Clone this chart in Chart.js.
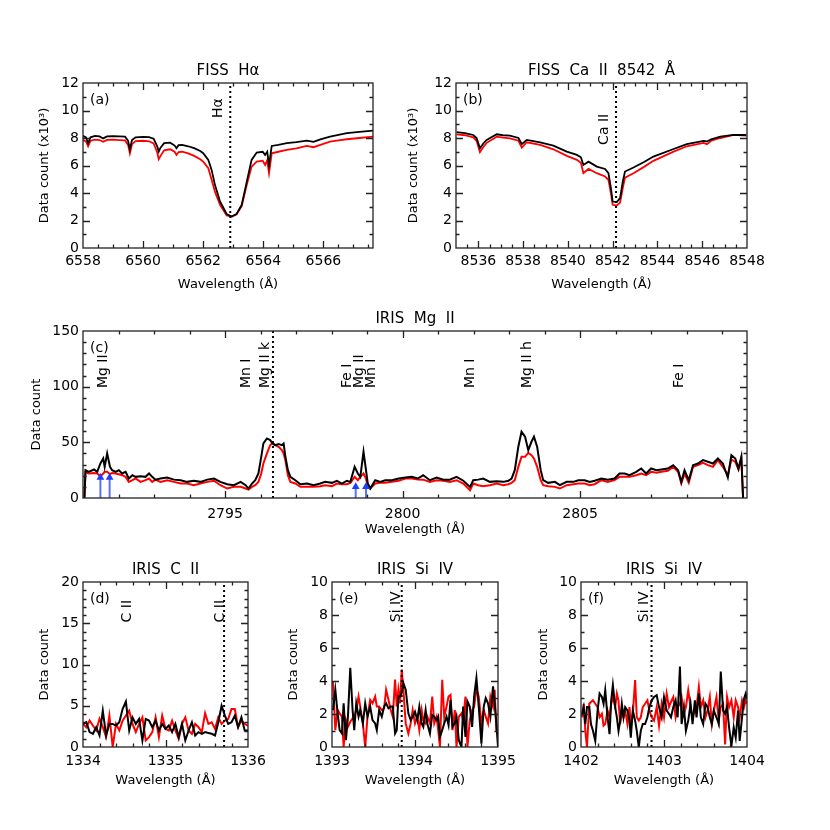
<!DOCTYPE html>
<html><head><meta charset="utf-8">
<script src="https://cdn.jsdelivr.net/npm/chart.js@4.4.1/dist/chart.umd.min.js"></script>
<style>
html,body{margin:0;padding:0;background:#fff;}
#wrap{position:relative;width:830px;height:830px;background:#fff;}
canvas{position:absolute;left:0;top:0;}
</style></head><body><div id="wrap">
<canvas id="pa" width="830" height="830"></canvas>
<canvas id="pb" width="830" height="830"></canvas>
<canvas id="pc" width="830" height="830"></canvas>
<canvas id="pd" width="830" height="830"></canvas>
<canvas id="pe" width="830" height="830"></canvas>
<canvas id="pf" width="830" height="830"></canvas>
</div>
<script>
// ---------------- DATA ----------------
// (a) FISS H-alpha, data count in 10^3
const aWave = [6558.00,6558.10,6558.17,6558.25,6558.40,6558.55,6558.67,6558.80,6559.00,6559.20,
  6559.40,6559.50,6559.56,6559.63,6559.75,6560.00,6560.20,6560.35,6560.47,6560.52,
  6560.58,6560.70,6560.90,6561.05,6561.11,6561.18,6561.30,6561.50,6561.70,6561.90,
  6562.00,6562.17,6562.28,6562.39,6562.56,6562.78,6562.95,6563.11,6563.28,6563.45,
  6563.61,6563.78,6563.98,6564.06,6564.13,6564.19,6564.28,6564.50,6564.78,6565.10,
  6565.45,6565.67,6565.90,6566.22,6566.50,6566.78,6567.20,6567.67];
const aBlack = [8.15,8.05,7.62,8.05,8.15,8.12,7.97,8.12,8.14,8.12,
  8.10,7.80,7.18,7.85,8.05,8.08,8.06,7.95,7.40,7.01,
  7.30,7.62,7.66,7.45,7.26,7.48,7.50,7.40,7.26,7.05,
  6.89,6.41,5.68,4.59,3.38,2.47,2.29,2.47,3.14,4.83,
  6.41,6.94,7.00,6.77,7.00,6.04,7.42,7.50,7.62,7.70,
  7.81,7.72,7.90,8.10,8.22,8.35,8.45,8.54];
const aRed = [7.85,7.75,7.40,7.80,7.88,7.85,7.72,7.86,7.88,7.85,
  7.82,7.50,6.89,7.55,7.78,7.80,7.76,7.60,6.95,6.46,
  6.70,7.10,7.18,7.00,6.77,6.98,7.00,6.88,6.70,6.45,
  6.28,5.80,4.96,4.10,3.14,2.37,2.29,2.45,3.05,4.60,
  5.92,6.28,6.35,6.04,6.38,5.44,6.89,7.00,7.13,7.25,
  7.42,7.33,7.50,7.74,7.82,7.91,8.00,8.10];
const aXTicks = [6558,6560,6562,6564,6566];
const aYTicks = [0,2,4,6,8,10,12];

// (b) FISS Ca II 8542, data count in 10^3
const bWave = [8535.03,8535.40,8535.77,8535.92,8536.07,8536.22,8536.37,8536.82,8537.10,8537.41,
  8537.79,8537.94,8538.16,8538.76,8539.35,8539.95,8540.40,8540.58,8540.69,8540.92,
  8541.29,8541.66,8541.81,8541.92,8542.00,8542.18,8542.33,8542.45,8542.55,8542.93,
  8543.40,8543.82,8544.72,8545.31,8546.06,8546.21,8546.40,8546.81,8547.40,8547.97];
const bBlack = [8.42,8.35,8.22,8.00,7.26,7.60,7.86,8.27,8.20,8.17,
  8.00,7.55,7.86,7.69,7.45,7.01,6.77,6.60,6.04,6.28,
  5.92,5.75,5.44,4.35,3.38,3.34,3.63,4.83,5.56,5.85,
  6.25,6.65,7.20,7.55,7.79,7.75,7.90,8.10,8.22,8.22];
const bRed = [8.27,8.20,8.05,7.80,6.97,7.35,7.65,8.10,8.02,7.98,
  7.80,7.30,7.69,7.50,7.18,6.70,6.41,6.20,5.44,5.75,
  5.44,5.20,4.96,4.00,3.14,3.09,3.30,4.35,5.12,5.44,
  5.90,6.34,7.01,7.40,7.65,7.55,7.80,8.00,8.22,8.18];
const bXTicks = [8536,8538,8540,8542,8544,8546,8548];
const bYTicks = [0,2,4,6,8,10,12];

// (c) IRIS Mg II
const cWave = [2791.04,2791.07,2791.16,2791.31,2791.40,2791.49,2791.57,2791.61,2791.68,2791.76,
  2791.82,2791.92,2792.01,2792.10,2792.20,2792.29,2792.39,2792.48,2792.62,2792.76,
  2792.86,2792.95,2793.04,2793.18,2793.37,2793.56,2793.75,2793.93,2794.12,2794.31,
  2794.50,2794.69,2794.87,2795.06,2795.25,2795.44,2795.58,2795.66,2795.76,2795.85,
  2795.94,2796.02,2796.08,2796.18,2796.27,2796.34,2796.41,2796.51,2796.60,2796.65,
  2796.70,2796.77,2796.84,2796.98,2797.12,2797.31,2797.49,2797.68,2797.82,2798.01,
  2798.15,2798.29,2798.43,2798.53,2798.65,2798.74,2798.81,2798.90,2798.97,2799.02,
  2799.09,2799.23,2799.37,2799.51,2799.70,2799.89,2800.08,2800.26,2800.43,2800.58,
  2800.77,2800.96,2801.15,2801.33,2801.52,2801.71,2801.90,2801.99,2802.13,2802.27,
  2802.46,2802.65,2802.84,2802.98,2803.07,2803.16,2803.26,2803.35,2803.45,2803.54,
  2803.63,2803.70,2803.79,2803.89,2803.96,2804.10,2804.29,2804.43,2804.62,2804.81,
  2804.95,2805.13,2805.27,2805.41,2805.60,2805.78,2805.97,2806.11,2806.25,2806.39,
  2806.58,2806.72,2806.86,2807.00,2807.15,2807.29,2807.47,2807.62,2807.76,2807.85,
  2807.94,2808.06,2808.18,2808.32,2808.46,2808.60,2808.74,2808.88,2809.02,2809.16,
  2809.26,2809.37,2809.46,2809.54,2809.59];
const cBlack = [0,25.0,23.5,25.6,23.5,31.0,35.5,28.0,40.0,28.0,
  25.0,23.5,25.0,22.0,23.5,17.5,20.5,19.0,19.6,19.0,
  22.0,19.0,16.5,17.5,18.4,16.5,16.0,14.5,15.5,14.5,
  16.5,17.5,14.5,12.4,11.5,14.5,11.5,8.5,13.0,16.0,
  22.0,37.0,49.0,53.5,52.0,49.0,47.5,48.4,47.5,49.0,
  37.0,25.0,19.0,16.0,12.4,13.0,11.5,13.0,14.5,13.6,
  15.5,13.0,15.5,14.5,28.0,22.0,19.0,41.5,25.0,13.0,
  8.5,16.0,14.5,16.0,16.0,17.5,18.4,19.0,17.5,20.4,
  16.0,18.4,16.5,16.5,19.0,15.5,10.0,16.0,16.5,17.5,
  14.5,15.1,14.5,15.5,17.5,25.0,46.0,59.5,55.0,43.0,
  50.5,55.0,46.0,25.0,16.0,13.6,14.5,11.5,14.5,14.5,
  16.0,16.0,14.5,15.5,17.5,16.5,17.5,22.0,22.0,20.5,
  23.5,26.5,22.0,26.5,25.0,25.6,26.5,29.5,25.0,14.5,
  25.0,16.0,29.5,31.0,34.0,32.5,31.0,35.5,31.0,18.4,
  38.5,35.5,26.5,37.0,0];
const cRed = [0,23.0,22.0,22.5,22.0,19.5,22.0,23.5,23.5,21.4,
  22.5,22.0,21.4,20.5,19.0,14.5,16.0,17.5,14.5,16.0,
  17.5,14.5,16.5,14.5,16.0,14.5,13.0,13.0,11.5,13.0,
  14.5,15.5,11.5,8.5,10.0,10.0,8.5,7.5,10.0,11.5,
  14.5,22.0,31.0,40.0,47.4,49.5,47.5,46.0,43.0,40.0,
  34.0,20.5,14.5,13.0,10.0,10.0,10.0,10.6,11.5,10.6,
  13.0,12.4,12.4,13.6,19.0,16.0,19.0,22.0,17.5,10.0,
  8.5,13.0,13.6,13.6,14.5,15.5,17.5,17.5,16.6,16.5,
  14.5,16.0,15.4,14.5,16.0,13.0,7.0,13.0,11.5,10.6,
  11.5,13.0,11.5,12.4,13.6,16.0,28.0,37.0,37.0,40.5,
  38.5,35.5,28.0,16.0,11.5,10.6,10.0,8.5,11.5,12.4,
  13.0,13.0,11.5,12.4,16.0,14.5,16.0,19.0,19.0,19.0,
  20.5,22.0,20.5,23.5,22.6,23.5,24.4,28.0,23.5,13.0,
  22.0,13.6,28.0,29.5,31.6,29.5,28.0,34.0,28.0,20.5,
  34.6,32.5,25.6,35.5,0];
const cXTicks = [2795,2800,2805];
const cYTicks = [0,50,100,150];
const cArrowWave = [2791.49,2791.75,2798.68,2798.97];
const cArrowTop = [18.4,18.4,10.0,10.0];

// (d) IRIS C II
const dWave = [1334.00,1334.04,1334.08,1334.12,1334.16,1334.20,1334.24,1334.28,1334.32,1334.36,
  1334.40,1334.44,1334.48,1334.52,1334.56,1334.60,1334.64,1334.68,1334.72,1334.76,
  1334.80,1334.84,1334.88,1334.92,1334.96,1335.00,1335.04,1335.08,1335.12,1335.16,
  1335.20,1335.24,1335.28,1335.32,1335.36,1335.40,1335.44,1335.48,1335.52,1335.56,
  1335.60,1335.64,1335.68,1335.72,1335.76,1335.80,1335.84,1335.88,1335.92,1335.96,
  1336.00];
const dBlack = [2.8,3.0,1.8,1.6,2.4,1.4,4.4,1.4,2.8,2.8,
  2.6,3.0,4.6,5.5,2.0,3.6,2.8,3.4,0.8,3.4,
  3.2,2.4,3.2,2.0,2.8,2.2,2.6,1.8,2.8,1.2,
  2.8,0.8,2.0,3.0,1.4,1.8,1.6,1.8,1.7,1.6,
  1.4,3.0,5.0,3.8,2.8,3.0,3.8,2.4,3.6,2.0,
  2.0];
const dRed = [2.8,2.4,3.2,2.6,2.0,3.4,2.4,1.2,3.8,0.0,
  2.8,2.0,3.2,3.8,4.4,2.8,1.8,2.8,3.6,0.8,
  1.2,1.8,3.6,1.2,3.8,2.2,2.0,3.2,2.0,1.0,
  2.8,3.6,2.0,1.6,2.8,2.4,1.8,4.1,2.8,3.0,
  2.2,3.6,2.8,3.2,3.4,4.6,4.6,2.4,3.2,2.8,
  2.6];
const dXTicks = [1334,1335,1336];
const dYTicks = [0,5,10,15,20];

// (e) IRIS Si IV 1394
const eWave = [1393.012,1393.040,1393.068,1393.092,1393.120,1393.140,1393.168,1393.192,1393.220,1393.248,
  1393.268,1393.292,1393.320,1393.340,1393.372,1393.400,1393.428,1393.460,1393.488,1393.520,
  1393.540,1393.568,1393.600,1393.628,1393.652,1393.680,1393.708,1393.732,1393.760,1393.780,
  1393.800,1393.820,1393.840,1393.860,1393.888,1393.920,1393.948,1393.972,1394.000,1394.028,
  1394.052,1394.080,1394.100,1394.128,1394.148,1394.180,1394.208,1394.232,1394.260,1394.280,
  1394.300,1394.328,1394.352,1394.380,1394.404,1394.428,1394.452,1394.480,1394.500,1394.528,
  1394.560,1394.580,1394.608,1394.632,1394.660,1394.688,1394.712,1394.740,1394.768,1394.800,
  1394.828,1394.852,1394.880,1394.908,1394.940,1394.960,1394.980,1395.000];
const eBlack = [2.24,3.47,2.04,1.02,0.82,2.65,0.41,1.84,4.80,2.24,
  1.02,2.65,1.84,2.24,1.43,2.65,1.84,2.45,1.63,1.43,
  1.02,2.24,1.84,2.45,2.65,2.35,2.45,2.45,0.82,1.02,
  3.06,3.06,3.27,3.88,3.47,2.04,1.63,1.84,2.14,1.63,
  2.45,1.43,1.22,2.24,1.43,0.82,1.94,1.84,1.63,1.84,
  0.61,1.02,1.43,1.84,1.33,2.86,1.22,1.43,1.84,0.41,
  0.00,2.45,0.61,2.76,2.45,1.22,3.06,4.18,2.45,0.20,
  2.45,2.96,2.65,1.84,3.67,2.65,1.43,0.00];
const eRed = [3.98,1.02,2.24,2.04,1.84,0.00,1.63,1.22,1.53,1.73,
  1.84,2.24,3.06,2.45,1.43,0.00,1.84,2.86,2.65,3.06,
  2.45,2.45,2.24,2.35,3.47,2.86,2.24,1.84,4.08,2.45,
  3.47,2.65,4.69,3.47,1.43,0.82,1.43,2.24,1.43,1.84,
  1.02,2.24,1.63,1.43,1.84,1.43,3.06,1.43,1.84,1.02,
  0.00,4.08,1.84,2.45,3.06,3.16,1.02,2.24,0.00,1.84,
  2.04,1.63,3.06,0.00,1.63,2.24,2.45,3.47,3.06,1.43,
  2.24,1.84,1.43,3.06,2.45,3.47,1.02,0.82];
const eXTicks = [1393,1394,1395];
const eYTicks = [0,2,4,6,8,10];

// (f) IRIS Si IV 1403
const fWave = [1402.012,1402.032,1402.052,1402.072,1402.100,1402.120,1402.144,1402.172,1402.200,1402.224,
  1402.252,1402.272,1402.292,1402.320,1402.344,1402.364,1402.384,1402.412,1402.432,1402.452,
  1402.472,1402.492,1402.512,1402.532,1402.560,1402.584,1402.600,1402.624,1402.652,1402.672,
  1402.696,1402.720,1402.744,1402.772,1402.800,1402.824,1402.852,1402.880,1402.912,1402.940,
  1402.972,1403.000,1403.032,1403.060,1403.084,1403.112,1403.140,1403.164,1403.192,1403.212,
  1403.240,1403.264,1403.292,1403.320,1403.344,1403.372,1403.392,1403.420,1403.444,1403.472,
  1403.500,1403.524,1403.552,1403.576,1403.600,1403.632,1403.660,1403.684,1403.712,1403.736,
  1403.760,1403.784,1403.812,1403.840,1403.864,1403.892,1403.912,1403.940,1403.964,1403.984,
  1404.000];
const fBlack = [2.01,2.42,1.39,2.42,2.42,1.39,0.98,0.37,2.21,3.24,
  3.03,2.62,3.44,1.80,0.78,2.83,3.75,2.42,1.80,0.98,
  1.60,2.62,1.80,2.42,2.21,1.60,0.57,2.21,1.60,0.98,
  0.00,0.98,1.39,1.39,1.80,2.42,2.83,3.03,3.14,2.42,
  1.80,3.03,2.21,2.01,1.80,2.42,2.83,1.80,4.88,1.39,
  2.42,0.98,1.60,2.62,1.39,2.83,1.80,3.24,1.80,1.39,
  2.62,2.42,1.80,1.39,2.21,1.80,1.39,4.57,2.21,2.01,
  2.42,1.19,0.06,1.19,0.57,2.21,0.37,1.80,2.93,3.24,
  2.93];
const fRed = [1.80,2.62,0.98,0.00,2.62,2.73,2.83,2.62,2.42,1.80,
  2.01,1.29,1.39,2.21,1.80,2.62,3.03,2.42,3.24,2.83,
  1.39,2.21,1.80,2.21,1.39,2.42,1.39,2.01,4.06,1.80,
  1.60,1.80,2.42,2.62,2.83,2.21,1.80,1.60,2.42,1.29,
  2.62,1.80,3.24,2.42,2.73,3.03,1.80,2.42,2.62,3.03,
  2.01,2.42,3.44,2.42,1.80,2.21,2.42,3.65,2.42,2.83,
  1.80,2.21,3.03,1.39,2.21,3.03,1.60,2.42,2.62,0.16,
  3.03,2.42,2.83,1.80,2.83,2.42,1.80,2.83,2.42,2.83,
  2.62];
const fXTicks = [1402,1403,1404];
const fYTicks = [0,2,4,6,8,10];

// line identifications: text, wavelength, data height of label start
const aLabelText = ['Hα'];   const aLabelWave = [6562.49]; const aLabelY = 9.46;
const bLabelText = ['Ca II']; const bLabelWave = [8541.62]; const bLabelY = 7.5;
const cLabelText = ['Mg II','Mn I','Mg II k','Fe I','Mg II','Mn I','Mn I','Mg II h','Fe I'];
const cLabelWave = [2791.58,2795.61,2796.14,2798.45,2798.79,2799.13,2801.92,2803.52,2807.80];
const cLabelY = 98.7;
const dLabelText = ['C II','C II']; const dLabelWave = [1334.54,1335.67]; const dLabelY = 15.1;
const eLabelText = ['Si IV']; const eLabelWave = [1393.78]; const eLabelY = 7.56;
const fLabelText = ['Si IV']; const fLabelWave = [1402.76]; const fLabelY = 7.56;
// rest wavelengths (dotted lines)
const aLine = 6562.9, bLine = 8542.15, cLine = 2796.35, dLine = 1335.71, eLine = 1393.84, fLine = 1402.85;

// ---------------- DRAWING ----------------
Chart.defaults.font.family = "'DejaVu Sans', sans-serif";
Chart.defaults.color = '#000';
const FONT = "'DejaVu Sans', sans-serif";

function pts(xs, ys) { return xs.map((x, i) => ({x: x, y: ys[i]})); }
function steps(min, max, st) {
  const out = [];
  for (let v = Math.ceil(min / st - 1e-9) * st; v <= max + 1e-9; v += st) out.push(v);
  return out;
}

const idlPlugin = {
  id: 'idl',
  afterDatasetsDraw(chart, args, o) {
    const ctx = chart.ctx, ca = chart.chartArea, xs = chart.scales.x, ys = chart.scales.y;
    ctx.save();
    ctx.strokeStyle = '#222';
    ctx.lineWidth = 1.3;
    ctx.strokeRect(ca.left, ca.top, ca.right - ca.left, ca.bottom - ca.top);
    ctx.beginPath();
    const vt = (vals, len) => vals.forEach(v => {
      const px = Math.round(xs.getPixelForValue(v)) + 0.5;
      if (px < ca.left + 1 || px > ca.right - 1) return;
      ctx.moveTo(px, ca.bottom); ctx.lineTo(px, ca.bottom - len);
      ctx.moveTo(px, ca.top); ctx.lineTo(px, ca.top + len);
    });
    const ht = (vals, len) => vals.forEach(v => {
      const py = Math.round(ys.getPixelForValue(v)) + 0.5;
      if (py < ca.top + 1 || py > ca.bottom - 1) return;
      ctx.moveTo(ca.left, py); ctx.lineTo(ca.left + len, py);
      ctx.moveTo(ca.right, py); ctx.lineTo(ca.right - len, py);
    });
    vt(o.xMajor, 7); vt(steps(xs.min, xs.max, o.xMinor), 3.5);
    ht(o.yMajor, 7); ht(steps(ys.min, ys.max, o.yMinor), 3.5);
    ctx.stroke();
    ctx.fillStyle = '#000';
    ctx.textBaseline = 'middle';
    ctx.textAlign = 'center';
    ctx.font = '15px ' + FONT;
    ctx.fillText(o.title, (ca.left + ca.right) / 2, ca.top - 12);
    ctx.textAlign = 'left';
    ctx.font = '14px ' + FONT;
    ctx.fillText(o.tag, ca.left + 7, ca.top + 17);
    o.labelText.forEach((t, i) => {
      const px = xs.getPixelForValue(o.labelWave[i]);
      const py = ys.getPixelForValue(o.labelY);
      ctx.save();
      ctx.translate(px, py);
      ctx.rotate(-Math.PI / 2);
      ctx.textAlign = 'left';
      ctx.textBaseline = 'middle';
      ctx.fillText(t, 0, 0);
      ctx.restore();
    });
    ctx.restore();
  }
};

function makePanel(id, p) {
  const [l, t, r, b] = p.area;
  const ds = [];
  ds.push({data: [{x: p.vline, y: p.yMin}, {x: p.vline, y: p.yMax}], borderColor: '#000',
           borderWidth: 2, borderDash: [2, 3], pointRadius: 0});
  (p.arrows || []).forEach(a => ds.push({
    data: [{x: a[0], y: 0}, {x: a[0], y: a[1]}], borderColor: 'rgba(60,90,255,0.85)', borderWidth: 2,
    pointRadius: [0, 4.5], pointStyle: 'triangle', pointBackgroundColor: 'rgb(30,60,255)', pointBorderWidth: 0
  }));
  ds.push({data: pts(p.wave, p.black), borderColor: '#000', borderWidth: p.lw, pointRadius: 0, tension: 0});
  ds.push({data: pts(p.wave, p.red), borderColor: '#ff0000', borderWidth: p.lw, pointRadius: 0, tension: 0});
  new Chart(document.getElementById(id), {
    type: 'line',
    data: {datasets: ds},
    options: {
      responsive: false, animation: false, devicePixelRatio: 1, events: [],
      layout: {padding: {left: l - p.yW, top: t, right: 830 - r, bottom: 830 - b - p.xH}},
      plugins: {legend: {display: false}, tooltip: {enabled: false},
        idl: {xMajor: p.xTicks, yMajor: p.yTicks, xMinor: p.xMinor, yMinor: p.yMinor,
              title: p.title, tag: p.tag, labelText: p.labelText, labelWave: p.labelWave, labelY: p.labelY}},
      scales: {
        x: {type: 'linear', min: p.xMin, max: p.xMax,
            afterBuildTicks: s => { s.ticks = p.xTicks.map(v => ({value: v})); },
            afterFit: s => { s.height = p.xH; },
            grid: {display: false, drawTicks: false}, border: {display: false},
            ticks: {font: {size: 14}, padding: p.xPad, autoSkip: false, maxRotation: 0, color: '#000',
                    callback: v => String(v)},
            title: {display: true, text: 'Wavelength (Å)', font: {size: 13}, padding: 0, color: '#000'}},
        y: {type: 'linear', min: p.yMin, max: p.yMax,
            afterBuildTicks: s => { s.ticks = p.yTicks.map(v => ({value: v})); },
            afterFit: s => { s.width = p.yW; },
            grid: {display: false, drawTicks: false}, border: {display: false},
            ticks: {font: {size: 14}, padding: 4, color: '#000', callback: v => String(v)},
            title: {display: true, text: p.yTitle, font: {size: 13}, padding: 0, color: '#000'}}
      }
    },
    plugins: [idlPlugin]
  });
}

makePanel('pa', {area: [83, 83, 373, 248], yW: 46, xH: 44, xPad: 5, xMin: 6558, xMax: 6567.65, yMin: 0, yMax: 12,
  xTicks: aXTicks, yTicks: aYTicks, xMinor: 0.5, yMinor: 1, yTitle: 'Data count (x10³)', title: 'FISS  Hα', tag: '(a)',
  wave: aWave, black: aBlack, red: aRed, lw: 1.8, vline: aLine, labelText: aLabelText, labelWave: aLabelWave, labelY: aLabelY});
makePanel('pb', {area: [456, 83, 747, 248], yW: 50, xH: 44, xPad: 5, xMin: 8535, xMax: 8548, yMin: 0, yMax: 12,
  xTicks: bXTicks, yTicks: bYTicks, xMinor: 0.5, yMinor: 1, yTitle: 'Data count (x10³)', title: 'FISS  Ca  II  8542  Å', tag: '(b)',
  wave: bWave, black: bBlack, red: bRed, lw: 1.8, vline: bLine, labelText: bLabelText, labelWave: bLabelWave, labelY: bLabelY});
makePanel('pc', {area: [83, 331, 747, 498], yW: 54, xH: 39, xPad: 8, xMin: 2791.0, xMax: 2809.7, yMin: 0, yMax: 150,
  xTicks: cXTicks, yTicks: cYTicks, xMinor: 1, yMinor: 10, yTitle: 'Data count', title: 'IRIS  Mg  II', tag: '(c)',
  wave: cWave, black: cBlack, red: cRed, lw: 2, vline: cLine, labelText: cLabelText, labelWave: cLabelWave, labelY: cLabelY,
  arrows: cArrowWave.map((w, i) => [w, cArrowTop[i]])});
makePanel('pd', {area: [83, 582, 248, 747], yW: 46, xH: 41, xPad: 6, xMin: 1334, xMax: 1336, yMin: 0, yMax: 20,
  xTicks: dXTicks, yTicks: dYTicks, xMinor: 0.2, yMinor: 1, yTitle: 'Data count', title: 'IRIS  C  II', tag: '(d)',
  wave: dWave, black: dBlack, red: dRed, lw: 2, vline: dLine, labelText: dLabelText, labelWave: dLabelWave, labelY: dLabelY});
makePanel('pe', {area: [332, 582, 498, 747], yW: 46, xH: 41, xPad: 6, xMin: 1393, xMax: 1395, yMin: 0, yMax: 10,
  xTicks: eXTicks, yTicks: eYTicks, xMinor: 0.2, yMinor: 1, yTitle: 'Data count', title: 'IRIS  Si  IV', tag: '(e)',
  wave: eWave, black: eBlack, red: eRed, lw: 2, vline: eLine, labelText: eLabelText, labelWave: eLabelWave, labelY: eLabelY});
makePanel('pf', {area: [581, 582, 747, 747], yW: 45, xH: 41, xPad: 6, xMin: 1402, xMax: 1404, yMin: 0, yMax: 10,
  xTicks: fXTicks, yTicks: fYTicks, xMinor: 0.2, yMinor: 1, yTitle: 'Data count', title: 'IRIS  Si  IV', tag: '(f)',
  wave: fWave, black: fBlack, red: fRed, lw: 2, vline: fLine, labelText: fLabelText, labelWave: fLabelWave, labelY: fLabelY});
</script>
</body></html>
